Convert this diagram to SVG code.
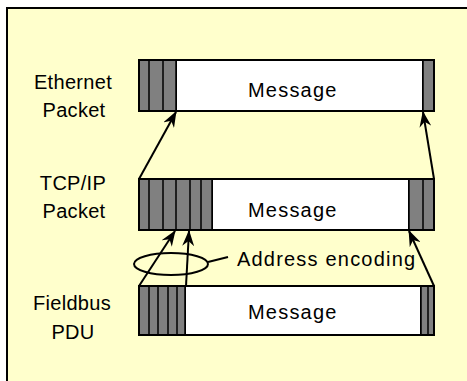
<svg xmlns="http://www.w3.org/2000/svg" width="467" height="381" viewBox="0 0 467 381">
  <style>
    .frame { fill: #FFFFCC; stroke: #000; stroke-width: 2; }
    .msg { fill: #FFFFFF; stroke: #000; stroke-width: 2; }
    .hdr { fill: #808080; stroke: #000; stroke-width: 1.5; }
    .lbl { font-family: "Liberation Sans", Arial, sans-serif; font-size: 20px; fill: #000; letter-spacing: 0.3px; }
    .txt { font-family: "Liberation Sans", Arial, sans-serif; font-size: 20px; fill: #000; letter-spacing: 1.2px; }
    .conn { stroke: #000; stroke-width: 2; fill: none; }
  </style>
  <defs>
    <marker id="arrow" markerWidth="16" markerHeight="12" refX="15" refY="6" orient="auto" markerUnits="userSpaceOnUse">
      <path d="M0,0 L16,6 L0,12 L5,6 Z" fill="#000"/>
    </marker>
  </defs>

  <!-- background panel -->
  <path class="frame" d="M468,8 H7 V382 H468 Z"/>

  <!-- Ethernet packet -->
  <g id="ethernet">
    <text class="lbl" x="73" y="89" text-anchor="middle">Ethernet</text>
    <text class="lbl" x="74" y="117" text-anchor="middle">Packet</text>
    <rect class="msg" x="176" y="60" width="247" height="51"/>
    <rect class="hdr" x="139" y="60" width="37" height="51"/>
    <line class="hdr" x1="149" y1="60" x2="149" y2="111"/>
    <line class="hdr" x1="163" y1="60" x2="163" y2="111"/>
    <rect class="hdr" x="423" y="60" width="11" height="51"/>
    <rect x="139" y="60" width="295" height="51" fill="none" stroke="#000" stroke-width="2"/>
    <text class="txt" x="248" y="97">Message</text>
  </g>

  <!-- TCP/IP packet -->
  <g id="tcpip">
    <text class="lbl" x="73" y="190" text-anchor="middle">TCP/IP</text>
    <text class="lbl" x="74" y="218" text-anchor="middle">Packet</text>
    <rect class="msg" x="212" y="179" width="197" height="51"/>
    <rect class="hdr" x="139" y="179" width="73" height="51"/>
    <line class="hdr" x1="149" y1="179" x2="149" y2="230"/>
    <line class="hdr" x1="163" y1="179" x2="163" y2="230"/>
    <line class="hdr" x1="176" y1="179" x2="176" y2="230"/>
    <line class="hdr" x1="190" y1="179" x2="190" y2="230"/>
    <line class="hdr" x1="201" y1="179" x2="201" y2="230"/>
    <rect class="hdr" x="409" y="179" width="25" height="51"/>
    <line class="hdr" x1="423" y1="179" x2="423" y2="230"/>
    <rect x="139" y="179" width="295" height="51" fill="none" stroke="#000" stroke-width="2"/>
    <text class="txt" x="248" y="217">Message</text>
  </g>

  <!-- Fieldbus PDU -->
  <g id="fieldbus">
    <text class="lbl" x="72" y="310" text-anchor="middle">Fieldbus</text>
    <text class="lbl" x="73" y="339" text-anchor="middle">PDU</text>
    <rect class="msg" x="185" y="286" width="236" height="49"/>
    <rect class="hdr" x="139" y="286" width="46" height="49"/>
    <line class="hdr" x1="149" y1="286" x2="149" y2="335"/>
    <line class="hdr" x1="158" y1="286" x2="158" y2="335"/>
    <line class="hdr" x1="168" y1="286" x2="168" y2="335"/>
    <line class="hdr" x1="177" y1="286" x2="177" y2="335"/>
    <rect class="hdr" x="421" y="286" width="13" height="49"/>
    <line class="hdr" x1="428" y1="286" x2="428" y2="335"/>
    <rect x="139" y="286" width="295" height="49" fill="none" stroke="#000" stroke-width="2"/>
    <text class="txt" x="248" y="319">Message</text>
  </g>

  <!-- address encoding callout -->
  <g id="address-encoding">
    <ellipse cx="171" cy="264" rx="37" ry="11" fill="none" stroke="#000" stroke-width="2"/>
    <line x1="208" y1="262" x2="228" y2="257" stroke="#000" stroke-width="2"/>
    <text class="txt" x="237" y="266" letter-spacing="1.1">Address encoding</text>
  </g>

  <!-- encapsulation arrows -->
  <g id="connectors">
    <line class="conn" x1="139" y1="179" x2="176" y2="112" marker-end="url(#arrow)"/>
    <line class="conn" x1="434" y1="179" x2="423" y2="112" marker-end="url(#arrow)"/>
    <line class="conn" x1="139" y1="286" x2="175" y2="231" marker-end="url(#arrow)"/>
    <line class="conn" x1="186" y1="286" x2="189" y2="231" marker-end="url(#arrow)"/>
    <line class="conn" x1="434" y1="286" x2="409" y2="231" marker-end="url(#arrow)"/>
  </g>
</svg>
